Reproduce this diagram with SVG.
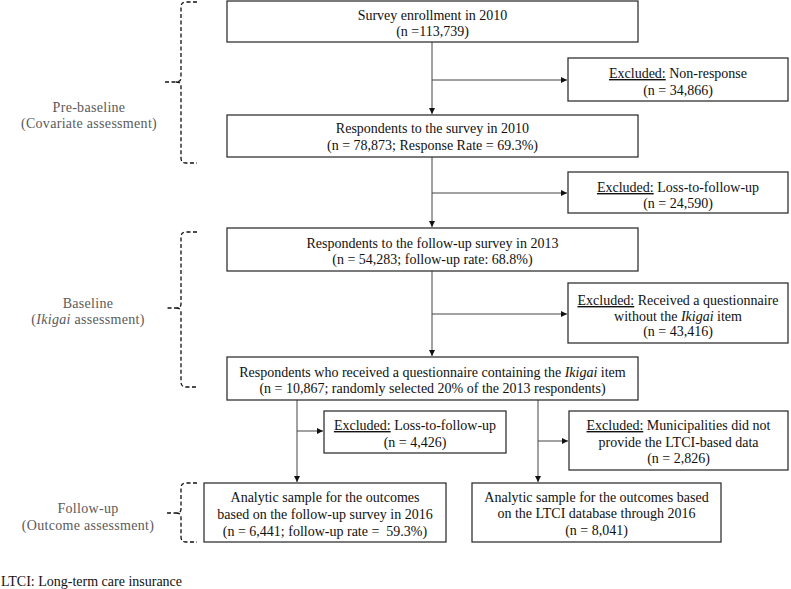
<svg xmlns="http://www.w3.org/2000/svg" width="791" height="589" viewBox="0 0 791 589">
<style>
.box{fill:#fff;stroke:#333;stroke-width:1.3}
.t{font-family:"Liberation Serif","Times New Roman",serif;font-size:14px;fill:#111;text-anchor:middle}
.lab{font-family:"Liberation Serif","Times New Roman",serif;font-size:14px;fill:#5a5a5a;text-anchor:middle;letter-spacing:0.3px}
.u{text-decoration:underline}
.c{fill:none;stroke:#444;stroke-width:1}
.br{fill:none;stroke:#111;stroke-width:1.3;stroke-dasharray:4,2.5}
</style>
<defs>
<marker id="ah" markerWidth="7" markerHeight="6" refX="6" refY="3" orient="auto" markerUnits="userSpaceOnUse">
<path d="M0,0 L6,3 L0,6 z" fill="#111"/>
</marker>
</defs>
<g id="connectors">
<line class="c" x1="432" y1="42" x2="432" y2="114" marker-end="url(#ah)"/>
<line class="c" x1="432" y1="80" x2="567" y2="80" marker-end="url(#ah)"/>
<line class="c" x1="432" y1="157" x2="432" y2="227" marker-end="url(#ah)"/>
<line class="c" x1="432" y1="193" x2="567" y2="193" marker-end="url(#ah)"/>
<line class="c" x1="432" y1="271" x2="432" y2="356" marker-end="url(#ah)"/>
<line class="c" x1="432" y1="314" x2="567" y2="314" marker-end="url(#ah)"/>
<line class="c" x1="297" y1="400" x2="297" y2="482" marker-end="url(#ah)"/>
<line class="c" x1="297" y1="431" x2="323" y2="431" marker-end="url(#ah)"/>
<line class="c" x1="538" y1="400" x2="538" y2="482" marker-end="url(#ah)"/>
<line class="c" x1="538" y1="441" x2="568" y2="441" marker-end="url(#ah)"/>
</g>
<g id="brace-prebaseline">
<path class="br" d="M197,2 L186,2 Q181,2 181,7 L181,78 Q181,82 176,82 L165,82 M176,82 Q181,82 181,86 L181,158 Q181,163 186,163 L197,163"/>
<text class="lab" x="89" y="112">Pre-baseline</text>
<text class="lab" x="89" y="128">(Covariate assessment)</text>
</g>
<g id="brace-baseline">
<path class="br" d="M197,232 L186,232 Q181,232 181,237 L181,304 Q181,308 176,308 L165,308 M176,308 Q181,308 181,312 L181,382 Q181,387 186,387 L197,387"/>
<text class="lab" x="88" y="308">Baseline</text>
<text class="lab" x="88" y="324">(<tspan font-style="italic">Ikigai</tspan> assessment)</text>
</g>
<g id="brace-followup">
<path class="br" d="M197,483 L186,483 Q181,483 181,488 L181,509 Q181,513 176,513 L165,513 M176,513 Q181,513 181,517 L181,537 Q181,542 186,542 L197,542"/>
<text class="lab" x="88" y="513">Follow-up</text>
<text class="lab" x="88" y="530">(Outcome assessment)</text>
</g>
<g id="n1">
<rect class="box" x="227" y="1" width="411" height="41"/>
<text class="t" x="432.5" y="20">Survey enrollment in 2010</text>
<text class="t" x="432.5" y="36">(n =113,739)</text>
</g>
<g id="x1">
<rect class="box" x="568" y="58" width="220" height="43"/>
<text class="t" x="678" y="78"><tspan class="u">Excluded:</tspan> Non-response</text>
<text class="t" x="678" y="95">(n = 34,866)</text>
</g>
<g id="n2">
<rect class="box" x="227" y="115" width="411" height="42"/>
<text class="t" x="432.5" y="133">Respondents to the survey in 2010</text>
<text class="t" x="432.5" y="150">(n = 78,873; Response Rate = 69.3%)</text>
</g>
<g id="x2">
<rect class="box" x="568" y="172" width="220" height="41"/>
<text class="t" x="678" y="192"><tspan class="u">Excluded:</tspan> Loss-to-follow-up</text>
<text class="t" x="678" y="208">(n = 24,590)</text>
</g>
<g id="n3">
<rect class="box" x="227" y="228" width="411" height="43"/>
<text class="t" x="432.5" y="248">Respondents to the follow-up survey in 2013</text>
<text class="t" x="432.5" y="264">(n = 54,283; follow-up rate: 68.8%)</text>
</g>
<g id="x3">
<rect class="box" x="568" y="283" width="220" height="60"/>
<text class="t" x="678" y="305"><tspan class="u">Excluded:</tspan> Received a questionnaire</text>
<text class="t" x="678" y="321">without the <tspan font-style="italic">Ikigai</tspan> item</text>
<text class="t" x="678" y="336">(n = 43,416)</text>
</g>
<g id="n4">
<rect class="box" x="227" y="357" width="411" height="43"/>
<text class="t" x="432.5" y="377">Respondents who received a questionnaire containing the <tspan font-style="italic">Ikigai</tspan> item</text>
<text class="t" x="432.5" y="393">(n = 10,867; randomly selected 20% of the 2013 respondents)</text>
</g>
<g id="x4">
<rect class="box" x="324" y="411" width="182" height="42"/>
<text class="t" x="415" y="430"><tspan class="u">Excluded:</tspan> Loss-to-follow-up</text>
<text class="t" x="415" y="447">(n = 4,426)</text>
</g>
<g id="x5">
<rect class="box" x="569" y="411" width="219" height="59"/>
<text class="t" x="678.5" y="430"><tspan class="u">Excluded:</tspan> Municipalities did not</text>
<text class="t" x="678.5" y="447">provide the LTCI-based data</text>
<text class="t" x="678.5" y="463">(n = 2,826)</text>
</g>
<g id="n5">
<rect class="box" x="204" y="483" width="242" height="59"/>
<text class="t" x="325" y="502">Analytic sample for the outcomes</text>
<text class="t" x="325" y="519">based on the follow-up survey in 2016</text>
<text class="t" x="325" y="536">(n = 6,441; follow-up rate =&#160; 59.3%)</text>
</g>
<g id="n6">
<rect class="box" x="472" y="483" width="249" height="59"/>
<text class="t" x="596.5" y="502">Analytic sample for the outcomes based</text>
<text class="t" x="596.5" y="518">on the LTCI database through 2016</text>
<text class="t" x="596.5" y="535">(n = 8,041)</text>
</g>
<text x="1" y="586" font-family="Liberation Serif, Times New Roman, serif" font-size="14" fill="#111">LTCI: Long-term care insurance</text>
</svg>
